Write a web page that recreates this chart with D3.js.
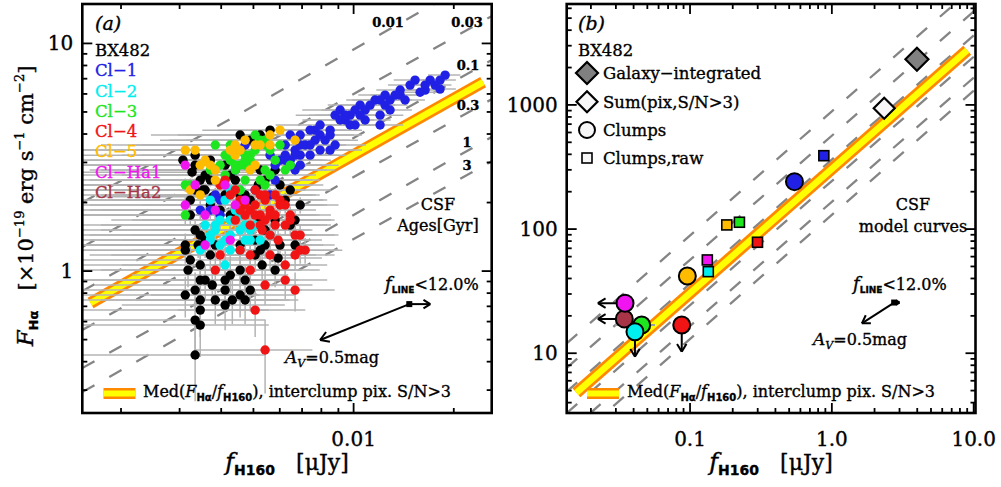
<!DOCTYPE html>
<html><head><meta charset="utf-8">
<script src="https://cdn.jsdelivr.net/npm/d3@7/dist/d3.min.js"></script>
<style>html,body{margin:0;padding:0;background:#fff;}svg{display:block}</style>
</head><body>
<svg id="chart" width="1001" height="487"></svg>
<script>
// ================= DATA =================
// axis ranges
const xDomainA = [0.00153, 0.026], yDomainA = [0.238, 14.9];
const xDomainB = [0.0135, 10.3],  yDomainB = [3.3, 6500];
// labelled ticks
const xTickLabA = [[0.01, "0.01"]];
const yTickLabA = [[1, "1"], [10, "10"]];
const xTickLabB = [[0.1, "0.1"], [1, "1.0"], [10, "10.0"]];
const yTickLabB = [[10, "10"], [100, "100"], [1000, "1000"]];

// panel (a): pixel photometry [f_H160 (uJy), F_Ha (1e-19 erg/s/cm2)]
const seriesNames = ["BX482", "Cl\u22121", "Cl\u22122", "Cl\u22123", "Cl\u22124", "Cl\u22125", "Cl\u2212Ha1", "Cl\u2212Ha2"];
const seriesColors = ["#000000", "#2121e6", "#00eeee", "#1ee61e", "#f01414", "#ffbb00", "#f014f0", "#a83448"];
const pixBX482 = [[0.00524,3.96],[0.00334,3.23],[0.00489,3.76],[0.00334,2.92],[0.00358,2.64],[0.00346,2.51],[0.00426,2.64],[0.00524,2.78],[0.00542,2.51],[0.00581,2.78],[0.00623,2.05],[0.00441,2.51],[0.00358,2.27],[0.00334,2.27],[0.00323,2.05],[0.00371,2.51],[0.00411,2.16],[0.00456,2.16],[0.00489,2.05],[0.00323,1.762],[0.00334,1.514],[0.00371,1.95],[0.00426,1.762],[0.00441,1.853],[0.00524,1.675],[0.00542,1.514],[0.00581,1.675],[0.00645,1.592],[0.00312,1.301],[0.00346,1.439],[0.00384,1.301],[0.00456,1.301],[0.00542,1.301],[0.00601,1.301],[0.00312,1.236],[0.00323,1.118],[0.00346,1.063],[0.00346,0.913],[0.00334,0.825],[0.00312,0.785],[0.00346,0.746],[0.00346,0.674],[0.00334,0.609],[0.00346,0.579],[0.00411,0.825],[0.00411,0.709],[0.00456,0.785],[0.00472,0.746],[0.00472,0.913],[0.00524,1.236],[0.00506,1.176],[0.00581,1.010],[0.00411,0.913],[0.00358,1.368],[0.00371,1.176],[0.00667,1.675],[0.00334,0.428],[0.00358,0.913],[0.00426,0.960],[0.00371,3.07],
  [0.00307,3.07],[0.00327,2.72],[0.00353,2.27],[0.00378,2.12],[0.00472,2.16],[0.00517,2.39],[0.00645,2.27],[0.00691,1.95],[0.00667,1.301],[0.00593,1.14],[0.00531,1.063],[0.00456,1.010],[0.00376,0.868],[0.00384,0.746],[0.00318,1.010],[0.00506,1.368],[0.00397,1.853],[0.00561,4.16],[0.00456,3.96],[0.00411,2.92],[0.00601,2.39],[0.00341,1.301],[0.00432,0.746],[0.00489,0.825]];
const pixCl1 = [[0.01884,7.26],[0.01819,6.90],[0.01698,6.90],[0.01640,6.56],[0.01640,6.24],[0.01530,6.90],[0.01478,6.56],[0.01380,6.24],[0.01380,5.93],[0.01333,5.93],[0.01287,5.64],[0.01243,5.93],[0.01201,5.64],[0.01243,5.36],[0.01160,5.64],[0.01201,4.84],[0.01121,5.36],[0.01046,5.36],[0.01010,5.10],[0.01083,5.10],[0.00976,4.84],[0.00943,4.84],[0.00943,4.61],[0.00880,4.84],[0.00911,4.61],[0.01010,4.38],[0.01201,4.38],[0.00850,4.16],[0.00850,3.96],[0.00821,3.76],[0.00880,3.58],[0.00793,4.38],[0.00766,4.16],[0.00740,4.16],[0.00691,3.96],[0.00645,3.96],[0.00715,3.58],[0.00740,3.58],[0.00740,3.23],[0.00850,3.40],[0.00793,3.40],[0.00667,3.40],[0.00623,3.23],[0.00623,3.07],[0.00645,2.92],[0.00667,2.78],[0.00561,3.23],[0.00623,3.58],[0.00691,3.58],[0.00601,3.07],[0.00645,3.07],[0.00691,2.92],[0.00667,3.23],[0.00581,2.51],[0.00561,2.16],[0.00506,2.27],[0.00441,2.78],[0.00472,3.58],[0.00384,2.16],[0.00397,2.05],[0.00346,1.853],[0.00371,1.853],[0.00397,1.762],[0.01758,6.56],[0.01428,5.64],[0.01083,4.61],[0.00976,4.38],[0.01287,5.10],[0.00766,3.76],
  [0.01584,6.10],[0.01046,4.84],[0.00911,5.10],[0.00793,3.96],[0.00691,3.23],[0.00581,2.92],[0.01819,6.30]];
const pixCl2 = [[0.00371,2.05],[0.00411,2.05],[0.00426,2.27],[0.00456,2.27],[0.00397,1.675],[0.00456,1.762],[0.00489,1.514],[0.00506,1.592],[0.00371,1.439],[0.00384,1.514],[0.00426,1.439],[0.00456,1.514],[0.00524,1.368],[0.00561,1.439],[0.00384,1.592],[0.00426,1.675],[0.00411,1.368],[0.00371,1.368],[0.00472,1.592],[0.00489,1.368],[0.00346,1.236],[0.00411,1.063],[0.00426,1.236],[0.00456,1.236],
  [0.00441,1.853],[0.00358,1.592],[0.00397,1.301],[0.00472,1.368]];
const pixCl3 = [[0.00384,3.58],[0.00472,3.23],[0.00472,3.07],[0.00489,3.23],[0.00542,3.76],[0.00542,3.58],[0.00561,3.40],[0.00601,3.58],[0.00411,3.23],[0.00397,2.92],[0.00441,2.92],[0.00472,2.92],[0.00489,2.92],[0.00489,3.07],[0.00456,2.92],[0.00371,2.78],[0.00312,2.39],[0.00323,2.39],[0.00411,2.64],[0.00441,2.78],[0.00472,2.51],[0.00542,2.78],[0.00561,2.64],[0.00542,2.39],[0.00645,2.92],[0.00623,2.78],[0.00456,2.27],[0.00312,1.762],[0.00524,3.76],[0.00506,3.40],[0.00426,3.07],
  [0.00506,3.96],[0.00426,3.58],[0.00581,3.07],[0.00524,2.51]];
const pixCl4 = [[0.00411,2.51],[0.00397,2.39],[0.00426,2.16],[0.00441,2.27],[0.00456,2.05],[0.00506,2.27],[0.00524,2.16],[0.00542,2.16],[0.00581,2.16],[0.00623,1.95],[0.00472,1.95],[0.00489,1.853],[0.00506,1.95],[0.00524,1.762],[0.00561,1.853],[0.00561,1.762],[0.00581,1.762],[0.00623,1.592],[0.00645,1.762],[0.00441,1.675],[0.00472,1.762],[0.00506,1.762],[0.00542,1.675],[0.00489,1.592],[0.00524,1.592],[0.00561,1.439],[0.00581,1.592],[0.00645,1.675],[0.00667,1.439],[0.00691,1.439],[0.00384,1.010],[0.00397,1.176],[0.00456,1.236],[0.00489,1.176],[0.00489,1.010],[0.00542,0.868],[0.00506,0.674],[0.00623,1.063],[0.00623,0.913],[0.00691,1.236],[0.00667,1.176],[0.00667,0.825],[0.00542,0.450],[0.00601,2.05],
  [0.00601,1.95],[0.00542,2.05],[0.00715,1.236],[0.00561,1.176],[0.00456,1.853],[0.00593,1.368],[0.00531,1.514]];
const pixCl5 = [[0.00312,3.40],[0.00441,3.58],[0.00441,3.23],[0.00524,3.58],[0.00561,3.58],[0.00561,3.96],[0.00667,3.76],[0.00371,2.92],[0.00358,3.07],[0.00384,2.78],[0.00323,2.27],[0.00489,2.78],[0.00506,2.92],[0.00346,2.16],[0.00384,2.51],[0.00506,3.58],[0.00426,3.40],[0.00346,2.92],[0.00456,3.40],
  [0.00472,3.76],[0.00601,4.16],[0.00334,3.40]];
const pixClHa1 = [[0.00312,2.92],[0.00334,2.39],[0.00312,1.95],[0.00358,1.762],[0.00384,1.853],[0.00441,1.95],[0.00358,1.301],[0.00411,2.39],[0.00472,2.05],[0.00426,1.368]];
const pixClHa2 = [];
const pixErrX = 0.0021, pixErrY = 0.16;

// median interclump ratio band (two end points) and CSF model lines
const medBandA = [[0.00162, 0.724], [0.0245, 6.76]];
const medBandB = [[0.0158, 4.8], [9.0, 2760]];
const csfAges = ["0.01", "0.03", "0.1", "0.3", "1", "3"];
const csfXA = [0.00153, 0.026];
const csfLeftA  = [2.00, 1.275, 0.817, 0.551, 0.375, 0.294];
const csfRightA = [20.7, 13.18, 8.45, 5.69, 3.88, 3.04];
const csfRatioB = [888, 565, 363, 244, 166, 130];

// panel (b): integrated values
const galaxyInt = [3.98, 2330];
const sumPix = [2.34, 939];
const clumpNamesB = ["Cl\u22121", "Cl\u22122", "Cl\u22123", "Cl\u22124", "Cl\u22125", "Cl\u2212Ha1", "Cl\u2212Ha2"];
const clumpX = [0.545, 0.0409, 0.0456, 0.0874, 0.0957, 0.0348, 0.0344];
const clumpY = [241, 14.9, 16.9, 16.9, 41.9, 25.3, 18.9];
const clumpLimit = [null, ["down", 9.39], null, ["down", 10.3], null, ["left", 0.0224], ["left", 0.0224]];
const clumpXErr = [null, null, [0.0295, 0.0566], null, null, null, null];
const rawX = [0.878, 0.1345, 0.223, 0.299, 0.1816, 0.1324, null];
const rawY = [390, 45.4, 113.5, 78.3, 108, 56.4, null];
const clumpColorsB = ["#2121e6", "#00eeee", "#1ee61e", "#f01414", "#ffbb00", "#f014f0", "#a83448"];

// correction vectors
const vecA = {o: [0.0147, 0.716], fline: [0.0170, 0.716], av: [0.00793, 0.498]};
const vecB = {o: [2.75, 25.6], fline: [3.0, 25.6], av: [1.628, 17.4]};

// ================= DRAW =================
const svg = d3.select("#chart");
const SERIF = "'DejaVu Serif', serif", SANS = "'DejaVu Sans', sans-serif";
const TXT_STROKE = 0.35;
svg.append("rect").attr("width", 1001).attr("height", 487).attr("fill", "#fff");
const boxA = {l: 82.3, r: 491.7, t: 4, b: 413};
const boxB = {l: 566.7, r: 975.5, t: 4, b: 413};
const xA = d3.scaleLog().domain(xDomainA).range([boxA.l, boxA.r]);
const yA = d3.scaleLog().domain(yDomainA).range([boxA.b, boxA.t]);
const xB = d3.scaleLog().domain(xDomainB).range([boxB.l, boxB.r]);
const yB = d3.scaleLog().domain(yDomainB).range([boxB.b, boxB.t]);

const defs = svg.append("defs");
function clip(id, b) {
  defs.append("clipPath").attr("id", id).append("rect")
    .attr("x", b.l).attr("y", b.t).attr("width", b.r - b.l).attr("height", b.b - b.t);
}
clip("clipA", boxA); clip("clipB", boxB);

const DASH = {stroke: "#858585", w: 2.3, da: "14,17"};
function dashLine(g, x1, y1, x2, y2) {
  g.append("line").attr("x1", x1).attr("y1", y1).attr("x2", x2).attr("y2", y2)
    .attr("stroke", DASH.stroke).attr("stroke-width", DASH.w).attr("stroke-dasharray", DASH.da);
}
function band(g, x, y, pts) {
  const ln = d3.line().x(d => x(d[0])).y(d => y(d[1]));
  g.append("path").attr("d", ln(pts)).attr("fill", "none").attr("stroke", "#ff8800").attr("stroke-width", 12);
  g.append("path").attr("d", ln(pts)).attr("fill", "none").attr("stroke", "#ffff00").attr("stroke-width", 6.5);
}
function arrow(g, x1, y1, x2, y2, head) {
  head = head || 9;
  g.append("line").attr("x1", x1).attr("y1", y1).attr("x2", x2).attr("y2", y2);
  const ang = Math.atan2(y2 - y1, x2 - x1);
  [-1, 1].forEach(s => {
    const a = ang + Math.PI + s * 0.55;
    g.append("line").attr("x1", x2).attr("y1", y2)
      .attr("x2", x2 + head * Math.cos(a)).attr("y2", y2 + head * Math.sin(a));
  });
}
function styleText(t, color) {
  return t.attr("fill", color).attr("stroke", color).attr("stroke-width", TXT_STROKE);
}
function drawAxes(box, x, y, xLab, yLab) {
  const g = svg.append("g");
  const isMajor = v => Math.abs(Math.log10(v) - Math.round(Math.log10(v))) < 1e-6;
  const tl = g.append("g").attr("stroke", "#000").attr("stroke-width", 1.8);
  x.ticks().forEach(v => {
    const px = x(v), L = isMajor(v) ? 10 : 5;
    tl.append("line").attr("x1", px).attr("x2", px).attr("y1", box.b).attr("y2", box.b - L);
    tl.append("line").attr("x1", px).attr("x2", px).attr("y1", box.t).attr("y2", box.t + L);
  });
  y.ticks().forEach(v => {
    const py = y(v), L = isMajor(v) ? 10 : 5;
    tl.append("line").attr("y1", py).attr("y2", py).attr("x1", box.l).attr("x2", box.l + L);
    tl.append("line").attr("y1", py).attr("y2", py).attr("x1", box.r).attr("x2", box.r - L);
  });
  g.append("rect").attr("x", box.l).attr("y", box.t).attr("width", box.r - box.l).attr("height", box.b - box.t)
    .attr("fill", "none").attr("stroke", "#000").attr("stroke-width", 2.6);
  xLab.forEach(([v, t]) => styleText(g.append("text").attr("x", x(v)).attr("y", 446).attr("text-anchor", "middle")
    .style("font-family", SERIF).style("font-size", "20px").text(t), "#000"));
  yLab.forEach(([v, t]) => styleText(g.append("text").attr("x", box.l - 9).attr("y", y(v) + 7).attr("text-anchor", "end")
    .style("font-family", SERIF).style("font-size", "20px").text(t), "#000"));
}
function txt(x, y, s, size, opts) {
  opts = opts || {};
  const t = svg.append("text").attr("x", x).attr("y", y).attr("text-anchor", opts.anchor || "start")
    .style("font-family", opts.family || SERIF).style("font-size", size + "px")
    .style("font-style", opts.italic ? "italic" : "normal").style("font-weight", opts.bold ? "bold" : "normal")
    .style("white-space", "pre").text(s);
  return styleText(t, opts.color || "#000");
}
function medLegend(x0, yTop, tx) {
  svg.append("rect").attr("x", x0).attr("y", yTop).attr("width", 32).attr("height", 11).attr("fill", "#ff8800");
  svg.append("rect").attr("x", x0).attr("y", yTop + 2.5).attr("width", 32).attr("height", 6).attr("fill", "#ffff00");
  const t = styleText(svg.append("text").attr("x", tx).attr("y", 397).style("font-family", SERIF).style("font-size", "16px").style("white-space", "pre"), "#000");
  t.append("tspan").text("Med(");
  t.append("tspan").style("font-style", "italic").text("F");
  t.append("tspan").attr("dy", 4).style("font-family", SANS).style("font-weight", "bold").style("font-size", "10px").text("H\u03b1");
  t.append("tspan").attr("dy", -4).text("/");
  t.append("tspan").style("font-style", "italic").text("f");
  t.append("tspan").attr("dy", 4).style("font-family", SANS).style("font-weight", "bold").style("font-size", "10px").text("H160");
  t.append("tspan").attr("dy", -4).text("), interclump pix. S/N>3");
}
function fLineLabel(x, y) {
  const t = styleText(svg.append("text").attr("x", x).attr("y", y).style("font-family", SERIF).style("font-size", "16px"), "#000");
  t.append("tspan").style("font-style", "italic").style("font-size", "18px").text("f");
  t.append("tspan").attr("dy", 3).style("font-family", SANS).style("font-weight", "bold").style("font-size", "9px").text("LINE");
  t.append("tspan").attr("dy", -3).text("<12.0%");
}
function avLabel(x, y) {
  const t = styleText(svg.append("text").attr("x", x).attr("y", y).style("font-family", SERIF).style("font-size", "16px"), "#000");
  t.append("tspan").style("font-style", "italic").style("font-size", "17px").text("A");
  t.append("tspan").attr("dy", 4).style("font-style", "italic").style("font-size", "11px").text("V");
  t.append("tspan").attr("dy", -4).text("=0.5mag");
}
function xTitle(cx) {
  const t = styleText(svg.append("text").attr("x", cx).attr("y", 470).attr("text-anchor", "middle")
    .style("font-family", SERIF).style("font-size", "22px").style("white-space", "pre"), "#000");
  t.append("tspan").style("font-style", "italic").style("font-size", "24px").text("f");
  t.append("tspan").attr("dy", 5).style("font-family", SANS).style("font-weight", "bold").style("font-size", "14px").text("H160");
  t.append("tspan").attr("dy", -5).text("   [\u03bcJy]");
}

// ---------- panel (a) ----------
const gA = svg.append("g").attr("clip-path", "url(#clipA)");
csfAges.forEach((a, i) => dashLine(gA, xA(csfXA[0]), yA(csfLeftA[i]), xA(csfXA[1]), yA(csfRightA[i])));
band(gA, xA, yA, medBandA);
const seriesA = [pixBX482, pixCl1, pixCl2, pixCl3, pixCl4, pixCl5, pixClHa1, pixClHa2];
const eg = gA.append("g").attr("stroke", "#b4b4b4").attr("stroke-width", 1.5);
seriesA.forEach(s => s.forEach(d => {
  const xl = d[0] - pixErrX > 0 ? d[0] - pixErrX : xDomainA[0] * 0.5;
  const yl = d[1] - pixErrY > 0 ? d[1] - pixErrY : yDomainA[0] * 0.5;
  eg.append("line").attr("x1", xA(xl)).attr("x2", xA(d[0] + pixErrX)).attr("y1", yA(d[1])).attr("y2", yA(d[1]));
  eg.append("line").attr("x1", xA(d[0])).attr("x2", xA(d[0])).attr("y1", yA(yl)).attr("y2", yA(d[1] + pixErrY));
}));
seriesA.forEach((s, i) => {
  gA.append("g").selectAll("circle").data(s).join("circle")
    .attr("cx", d => xA(d[0])).attr("cy", d => yA(d[1])).attr("r", 4.7).attr("fill", seriesColors[i]);
});
// correction vectors (a)
const vgA = svg.append("g").attr("stroke", "#000").attr("stroke-width", 2);
arrow(vgA, xA(vecA.o[0]), yA(vecA.o[1]), xA(vecA.fline[0]), yA(vecA.fline[1]), 8);
arrow(vgA, xA(vecA.o[0]), yA(vecA.o[1]), xA(vecA.av[0]), yA(vecA.av[1]), 10);
svg.append("rect").attr("x", xA(vecA.o[0]) - 3).attr("y", yA(vecA.o[1]) - 3).attr("width", 6).attr("height", 6).attr("fill", "#000");
fLineLabel(385, 290);
avLabel(285, 363);

drawAxes(boxA, xA, yA, xTickLabA, yTickLabA);
// legend (a)
txt(95, 30, "(a)", 19, {italic: true});
seriesNames.forEach((n, i) => txt(95, 56 + i * 20.25, n, 16.5, {color: seriesColors[i]}));
// CSF age labels
const ageLabPos = [[388, 27], [467, 27], [468, 70], [468, 110], [467, 147], [467, 170]];
csfAges.forEach((a, i) => txt(ageLabPos[i][0], ageLabPos[i][1], a, 13, {anchor: "middle", bold: true}));
txt(438, 210, "CSF", 16, {anchor: "middle"});
txt(438, 231, "Ages[Gyr]", 16, {anchor: "middle"});
medLegend(103.5, 388, 143);
xTitle(287);
// y title
{
  const t = styleText(svg.append("text").attr("transform", "translate(33,206) rotate(-90)").attr("text-anchor", "middle")
    .style("font-family", SERIF).style("font-size", "21px").style("white-space", "pre"), "#000");
  t.append("tspan").style("font-style", "italic").style("font-size", "23px").text("F");
  t.append("tspan").attr("dy", 5).style("font-family", SANS).style("font-weight", "bold").style("font-size", "13px").text("H\u03b1");
  t.append("tspan").attr("dy", -5).text("   [\u00d710");
  t.append("tspan").attr("dy", -9).style("font-size", "13px").text("\u221219");
  t.append("tspan").attr("dy", 9).text(" erg s");
  t.append("tspan").attr("dy", -9).style("font-size", "13px").text("\u22121");
  t.append("tspan").attr("dy", 9).text(" cm");
  t.append("tspan").attr("dy", -9).style("font-size", "13px").text("\u22122");
  t.append("tspan").attr("dy", 9).text("]");
}

// ---------- panel (b) ----------
const gB = svg.append("g").attr("clip-path", "url(#clipB)");
csfRatioB.forEach(r => dashLine(gB, xB(xDomainB[0]), yB(r * xDomainB[0]), xB(xDomainB[1]), yB(r * xDomainB[1])));
band(gB, xB, yB, medBandB);
// error bar and limits
const lg = gB.append("g").attr("stroke", "#000").attr("stroke-width", 2);
clumpXErr.forEach((e, i) => {
  if (e) gB.append("line").attr("x1", xB(e[0])).attr("x2", xB(e[1])).attr("y1", yB(clumpY[i])).attr("y2", yB(clumpY[i]))
    .attr("stroke", "#a0a0a0").attr("stroke-width", 2);
});
clumpLimit.forEach((l, i) => {
  if (!l) return;
  if (l[0] === "left") arrow(lg, xB(clumpX[i]), yB(clumpY[i]), xB(l[1]), yB(clumpY[i]), 9);
  else arrow(lg, xB(clumpX[i]), yB(clumpY[i]), xB(clumpX[i]), yB(l[1]), 9);
});
// clumps (circles)
const order = d3.range(clumpX.length).reverse();
order.forEach(i => {
  gB.append("circle").attr("cx", xB(clumpX[i])).attr("cy", yB(clumpY[i])).attr("r", 8.5)
    .attr("fill", clumpColorsB[i]).attr("stroke", "#000").attr("stroke-width", 2);
});
// raw squares
rawX.forEach((v, i) => {
  if (v === null) return;
  gB.append("rect").attr("x", xB(v) - 5).attr("y", yB(rawY[i]) - 5).attr("width", 10).attr("height", 10)
    .attr("fill", clumpColorsB[i]).attr("stroke", "#000").attr("stroke-width", 1.6);
});
function diamond(g, cx, cy, h, fill) {
  g.append("path").attr("d", `M${cx},${cy - h}L${cx + h},${cy}L${cx},${cy + h}L${cx - h},${cy}Z`)
    .attr("fill", fill).attr("stroke", "#000").attr("stroke-width", 2.2);
}
diamond(gB, xB(sumPix[0]), yB(sumPix[1]), 10.5, "#f7f7f7");
diamond(gB, xB(galaxyInt[0]), yB(galaxyInt[1]), 11.5, "#808080");
// correction vectors (b)
const vgB = svg.append("g").attr("stroke", "#000").attr("stroke-width", 2);
arrow(vgB, xB(vecB.o[0]), yB(vecB.o[1]), xB(vecB.fline[0]), yB(vecB.fline[1]), 4);
arrow(vgB, xB(vecB.o[0]), yB(vecB.o[1]), xB(vecB.av[0]), yB(vecB.av[1]), 9);
svg.append("rect").attr("x", xB(vecB.o[0]) - 3).attr("y", yB(vecB.o[1]) - 3).attr("width", 6).attr("height", 6).attr("fill", "#000");
fLineLabel(853, 290);
avLabel(813, 345);

drawAxes(boxB, xB, yB, xTickLabB, yTickLabB);
txt(578, 30, "(b)", 19, {italic: true});
txt(578, 56, "BX482", 16.5);
const lgB = svg.append("g");
diamond(lgB, 587, 73, 11, "#808080");
diamond(lgB, 587, 101.7, 10.5, "#f7f7f7");
lgB.append("circle").attr("cx", 587).attr("cy", 130).attr("r", 8).attr("fill", "#f7f7f7").attr("stroke", "#000").attr("stroke-width", 2);
lgB.append("rect").attr("x", 582).attr("y", 153).attr("width", 10).attr("height", 10).attr("fill", "#f7f7f7").attr("stroke", "#000").attr("stroke-width", 1.6);
txt(603, 79, "Galaxy\u2212integrated", 16.5);
txt(603, 107.7, "Sum(pix,S/N>3)", 16.5);
txt(603, 136, "Clumps", 16.5);
txt(603, 164, "Clumps,raw", 16.5);
txt(913, 210, "CSF", 16, {anchor: "middle"});
txt(913, 232, "model curves", 16, {anchor: "middle"});
medLegend(587, 388, 627);
xTitle(771);
</script>
</body></html>
